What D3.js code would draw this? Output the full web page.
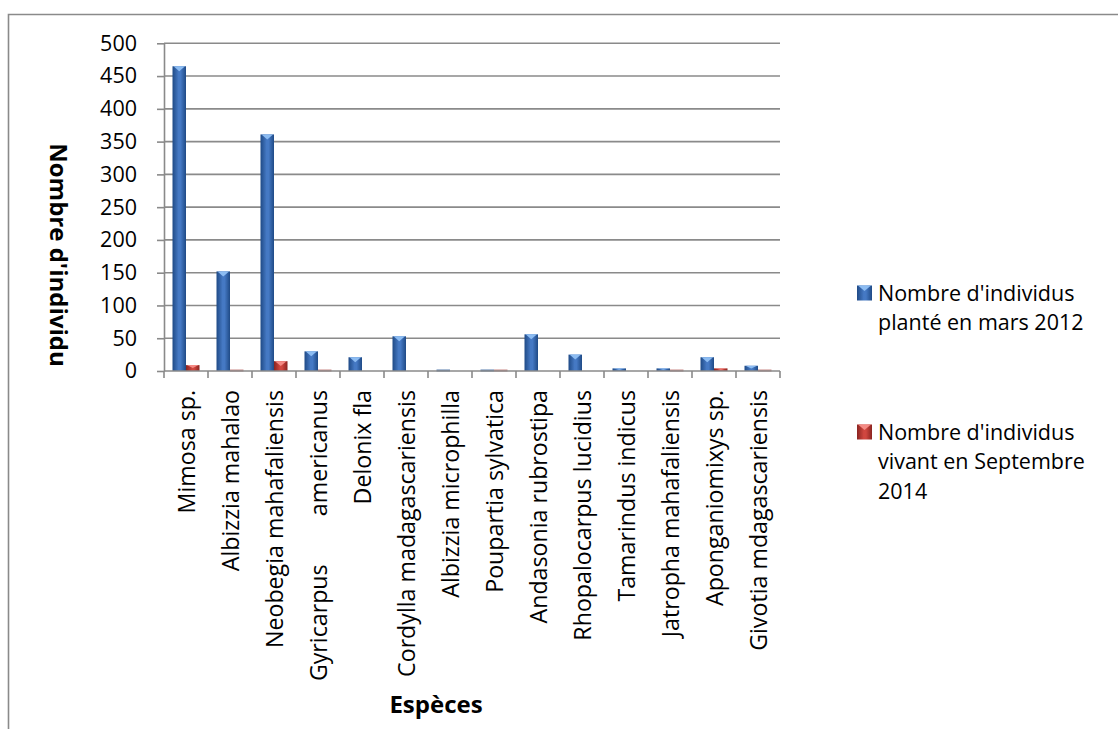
<!DOCTYPE html>
<html>
<head>
<meta charset="utf-8">
<script src="https://cdn.jsdelivr.net/npm/d3@7"></script>
<style>
  html, body { margin: 0; padding: 0; background: #fff; }
  svg { display: block; }
  text { font-family: "Open Sans", sans-serif; fill: #000; }
</style>
</head>
<body>
<svg id="chart" width="1118" height="729"></svg>
<script>
const categories = [
  "Mimosa sp.", "Albizzia mahalao", "Neobegia mahafaliensis",
  "Gyricarpus        americanus", "Delonix fla", "Cordylla madagascariensis",
  "Albizzia microphilla", "Poupartia sylvatica", "Andasonia rubrostipa",
  "Rhopalocarpus lucidius", "Tamarindus indicus", "Jatropha mahafaliensis",
  "Aponganiomixys sp.", "Givotia mdagascariensis"
];
const planted = [465, 152, 361, 30, 21, 53, 1, 1, 56, 25, 4, 4, 21, 8];
const alive   = [9, 1, 15, 1, 0, 0, 0, 1, 0, 0, 0, 1, 4, 1];
const seriesNames = [
  ["Nombre d'individus", "planté en mars 2012"],
  ["Nombre d'individus", "vivant en Septembre", "2014"]
];
const yTicks = [0, 50, 100, 150, 200, 250, 300, 350, 400, 450, 500];
const yTitle = "Nombre d'individu";
const xTitle = "Espèces";

const svg = d3.select("#chart");
const W = 1118, H = 729;
const plot = { left: 164, right: 780, top: 43.3, bottom: 371 };
const FS = 21.5;      // tick labels & legend
const FSX = 23.2;     // category labels
const FST = 24;       // axis titles

// outer chart border
svg.append("path")
  .attr("d", `M8.5,${H + 2} L8.5,14.5 L${W + 2},14.5`)
  .attr("fill", "none").attr("stroke", "#8a8a8a").attr("stroke-width", 1.6);

const defs = svg.append("defs");
const palettes = [
  { dark: "#1f4a86", mid: "#4579c4", light: "#8cbcf2", thin: "#5b7fae" },
  { dark: "#8a2420", mid: "#d0463f", light: "#f48a84", thin: "#c98a88" }
];
palettes.forEach((p, i) => {
  const g = defs.append("linearGradient").attr("id", "grad" + i)
    .attr("x1", 0).attr("x2", 1).attr("y1", 0).attr("y2", 0);
  g.append("stop").attr("offset", 0).attr("stop-color", p.dark);
  g.append("stop").attr("offset", 0.45).attr("stop-color", p.mid);
  g.append("stop").attr("offset", 0.6).attr("stop-color", p.mid);
  g.append("stop").attr("offset", 1).attr("stop-color", p.dark);
});

const x = d3.scaleBand().domain(categories).range([plot.left, plot.right]).padding(0);
const y = d3.scaleLinear().domain([0, 500]).range([plot.bottom, plot.top]);
const xs = d3.scaleBand().domain([0, 1]).range([0, x.bandwidth()]).paddingInner(0).paddingOuter(0.63);

// gridlines
svg.append("g").selectAll("line").data(yTicks.filter(d => d > 0)).join("line")
  .attr("x1", plot.left).attr("x2", plot.right)
  .attr("y1", d => y(d)).attr("y2", d => y(d))
  .attr("stroke", "#8a8a8a").attr("stroke-width", 1.6);

// y axis
const yAxis = svg.append("g").attr("transform", `translate(${plot.left},0)`)
  .call(d3.axisLeft(y).tickValues(yTicks).tickSize(7).tickPadding(20).tickSizeOuter(0));
yAxis.select(".domain").attr("stroke", "#8a8a8a").attr("stroke-width", 1.6);
yAxis.selectAll(".tick line").attr("stroke", "#8a8a8a").attr("stroke-width", 1.6);
yAxis.selectAll(".tick text").attr("font-size", FS).attr("font-family", "Open Sans, sans-serif").attr("fill", "#000");

// bars
const seriesData = [planted, alive];
seriesData.forEach((vals, si) => {
  const p = palettes[si];
  const g = svg.append("g");
  vals.forEach((v, ci) => {
    if (v <= 0) return;
    const bx = x(categories[ci]) + xs(si);
    const bw = xs.bandwidth();
    const by = y(v);
    const bh = y(0) - by;
    if (bh < 2.5) {
      g.append("rect").attr("x", bx).attr("y", y(0) - 1.5).attr("width", bw).attr("height", 2)
        .attr("fill", p.thin);
      return;
    }
    g.append("rect").attr("x", bx).attr("y", by).attr("width", bw).attr("height", bh)
      .attr("fill", `url(#grad${si})`);
    const th = Math.min(5, bh / 2);
    g.append("path")
      .attr("d", `M${bx + 1},${by} L${bx + bw - 1},${by} L${bx + bw / 2},${by + th} Z`)
      .attr("fill", p.light);
  });
});

// x axis
svg.append("line").attr("x1", plot.left).attr("x2", plot.right)
  .attr("y1", y(0)).attr("y2", y(0)).attr("stroke", "#8a8a8a").attr("stroke-width", 1.6);
const edges = categories.map(c => x(c)).concat([x(categories[categories.length - 1]) + x.bandwidth()]);
svg.append("g").selectAll("line").data(edges).join("line")
  .attr("x1", d => d).attr("x2", d => d)
  .attr("y1", y(0)).attr("y2", y(0) + 7)
  .attr("stroke", "#8a8a8a").attr("stroke-width", 1.6);

svg.append("g").selectAll("text").data(categories).join("text")
  .attr("transform", d => `translate(${x(d) + x.bandwidth() / 2 + 1},${y(0) + 19}) rotate(-90)`)
  .attr("text-anchor", "end").attr("dy", "0.35em")
  .attr("font-size", FSX)
  .style("white-space", "pre")
  .attr("xml:space", "preserve")
  .text(d => d);

// axis titles
svg.append("text")
  .attr("transform", `translate(58,255) rotate(90)`)
  .attr("text-anchor", "middle").attr("dy", "0.35em")
  .attr("font-size", FST).attr("font-weight", "bold")
  .text(yTitle);

svg.append("text")
  .attr("x", 436).attr("y", 713)
  .attr("text-anchor", "middle")
  .attr("font-size", FST).attr("font-weight", "bold")
  .text(xTitle);

// legend
const legY = [293, 432];
const lineH = 29.5;
seriesNames.forEach((lines, i) => {
  const p = palettes[i];
  const g = svg.append("g").attr("transform", `translate(857,${legY[i]})`);
  g.append("rect").attr("x", 0).attr("y", -7.5).attr("width", 15).attr("height", 15)
    .attr("fill", `url(#grad${i})`);
  g.append("path").attr("d", "M1,-7.5 L14,-7.5 L7.5,-2 Z").attr("fill", p.light);
  const t = g.append("text").attr("x", 21).attr("y", 0).attr("font-size", FS);
  lines.forEach((l, k) => {
    t.append("tspan").attr("x", 21).attr("dy", k === 0 ? "0.35em" : lineH).text(l);
  });
});
</script>
</body>
</html>
